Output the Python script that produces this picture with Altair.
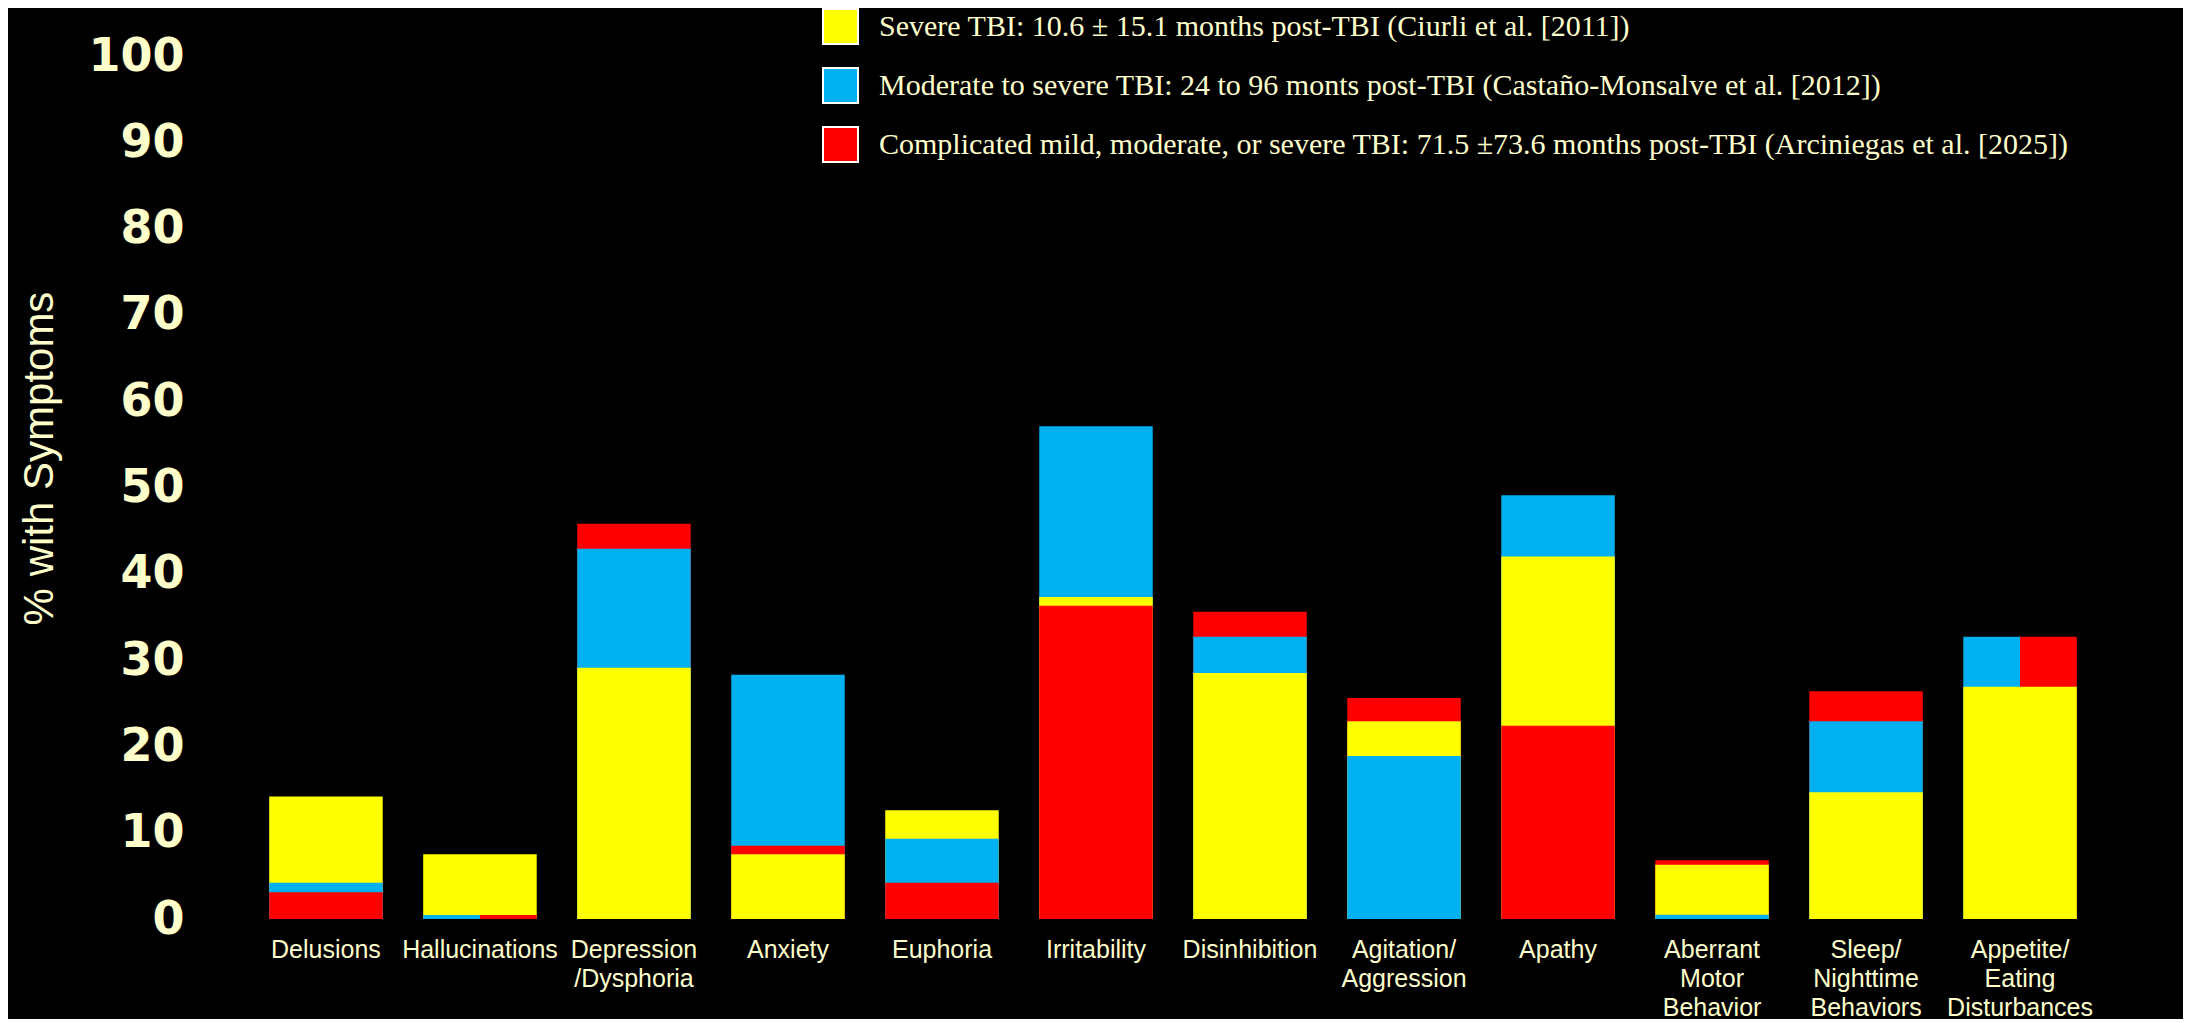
import altair as alt
import pandas as pd

categories = ["Delusions", "Hallucinations", "Depression\n/Dysphoria", "Anxiety", "Euphoria",
              "Irritability", "Disinhibition", "Agitation/\nAggression", "Apathy",
              "Aberrant\nMotor\nBehavior", "Sleep/\nNighttime\nBehaviors", "Appetite/\nEating\nDisturbances"]

series_names = [
    "Severe TBI: 10.6 \u00b1 15.1 months post-TBI (Ciurli et al. [2011])",
    "Moderate to severe TBI: 24 to 96 monts post-TBI (Casta\u00f1o-Monsalve et al. [2012])",
    "Complicated mild, moderate, or severe TBI: 71.5 \u00b173.6 months post-TBI (Arciniegas et al. [2025])",
]
series_colors = ["#FFFF00", "#00B0F0", "#FF0000"]

severe = [14.2, 7.5, 29.1, 7.5, 12.6, 37.3, 28.5, 22.9, 42.0, 6.3, 14.7, 26.9]
moderate = [4.2, 0.45, 42.9, 28.3, 9.3, 57.1, 32.7, 18.9, 49.1, 0.5, 22.9, 32.7]
complicated = [3.1, 0.45, 45.8, 8.5, 4.2, 36.3, 35.6, 25.6, 22.4, 6.8, 26.4, 32.7]

y_ticks = [0, 10, 20, 30, 40, 50, 60, 70, 80, 90, 100]

CREAM = "#FFFFCC"

rows = []
for i, c in enumerate(categories):
    vals = [severe[i], moderate[i], complicated[i]]
    tie_vals = {v for v in vals if vals.count(v) > 1}
    tie_v = max(tie_vals) if tie_vals else None
    for s, v in zip(series_names, vals):
        if tie_v is None or v > tie_v:
            stage = "pre"
        elif v == tie_v:
            stage = "tie"
        else:
            stage = "post"
        rows.append({"cat": c, "series": s, "value": v, "stage": stage})
df = pd.DataFrame(rows).sort_values("value", ascending=False)

x_enc = alt.X("cat:N", sort=categories, title=None,
              scale=alt.Scale(paddingInner=0.263, paddingOuter=0.3),
              axis=alt.Axis(labelExpr="split(datum.label, '\\n')", labelAngle=0,
                            labelFont="Liberation Sans", labelFontSize=25, labelColor=CREAM,
                            labelLineHeight=29, labelPadding=18, ticks=False, domain=False,
                            grid=False, labelLimit=400))
y_enc = alt.Y("value:Q", stack=None, title="% with Symptoms",
              scale=alt.Scale(domain=[0, 100], nice=False),
              axis=alt.Axis(values=y_ticks, labelFont="DejaVu Sans", labelFontWeight="bold",
                            labelFontSize=46, labelColor=CREAM, labelPadding=39,
                            ticks=False, domain=False, grid=False,
                            titleFont="Liberation Sans", titleFontSize=42,
                            titleFontWeight="normal", titleColor=CREAM, titlePadding=26,
                            titleY=402))
color_enc = alt.Color("series:N",
                      scale=alt.Scale(domain=series_names, range=series_colors),
                      legend=alt.Legend(title=None, orient="none", legendX=599, legendY=-48,
                                        symbolType="square", symbolSize=1225,
                                        symbolStrokeColor="white", symbolStrokeWidth=2,
                                        symbolOpacity=1,
                                        labelFont="Liberation Serif", labelFontSize=30,
                                        labelColor=CREAM, labelLimit=3000,
                                        rowPadding=16, labelOffset=20))
order_enc = alt.Order("value:Q", sort="descending")

pre = alt.Chart(df[df.stage == "pre"]).mark_bar(opacity=1).encode(
    x=x_enc, y=y_enc, color=color_enc, order=order_enc)
tie = alt.Chart(df[df.stage == "tie"]).mark_bar(opacity=1).encode(
    x=x_enc, y=y_enc, color=color_enc,
    xOffset=alt.XOffset("series:N", sort=series_names,
                        scale=alt.Scale(paddingInner=0, paddingOuter=0)))
post = alt.Chart(df[df.stage == "post"]).mark_bar(opacity=1).encode(
    x=x_enc, y=y_enc, color=color_enc, order=order_enc)

chart = alt.layer(pre, tie, post).properties(
    width=1900, height=863,
    padding={"left": 215, "top": 48, "right": 60, "bottom": 100},
    autosize=alt.AutoSizeParams(type="none"),
).configure(background="black").configure_view(stroke=None)

chart.save("out.html", embed_options={"renderer": "svg", "actions": False})
